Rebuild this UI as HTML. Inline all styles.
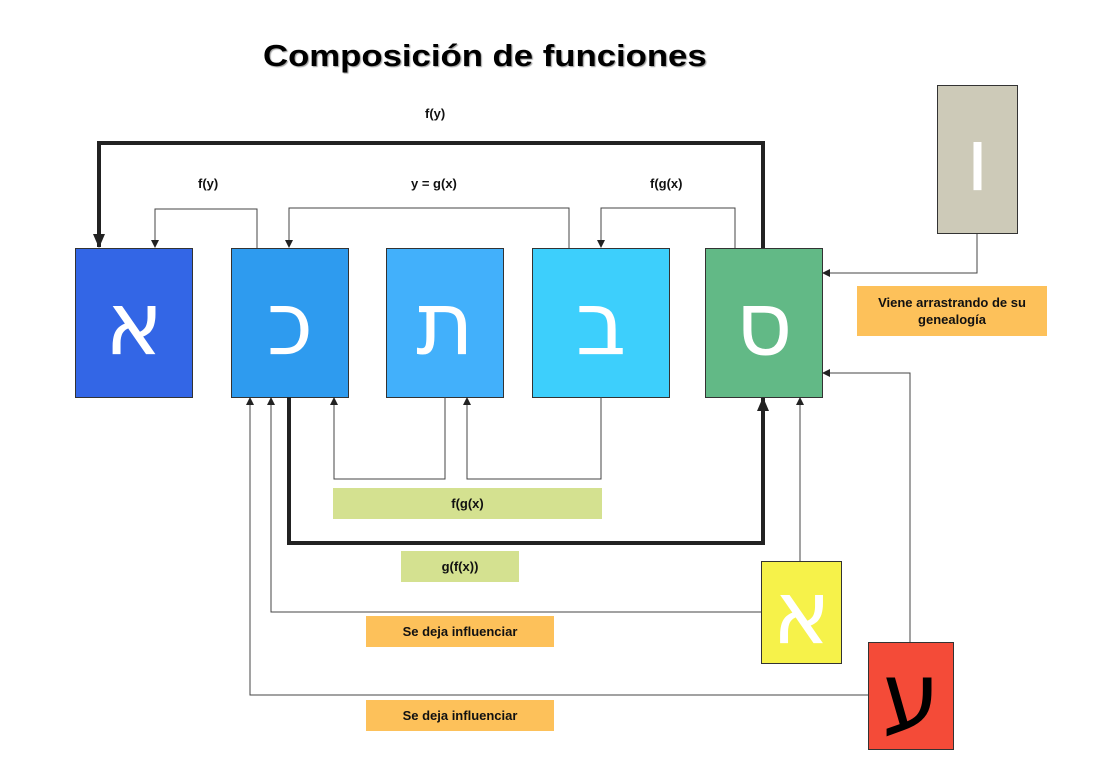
<!DOCTYPE html>
<html><head><meta charset="utf-8"><style>
body{margin:0;background:#fff;width:1100px;height:778px;overflow:hidden;position:relative;font-family:"Liberation Sans",sans-serif}
.b{position:absolute;box-sizing:border-box;border:1px solid #333;display:flex;align-items:center;justify-content:center;color:#fff;font-family:"DejaVu Sans",sans-serif}
.l{position:absolute;display:flex;align-items:center;justify-content:center;font-weight:bold;font-size:13px;color:#111;text-align:center}
.t{position:absolute;font-weight:bold;font-size:13px;color:#111}
</style></head><body>
<div style="position:absolute;left:263px;top:38px;font-size:31px;font-weight:bold;text-shadow:1px 1px 1px #999;transform:scaleX(1.12);transform-origin:0 0">Composición de funciones</div>
<div class="t" style="left:425px;top:106px">f(y)</div>
<div class="t" style="left:198px;top:176px">f(y)</div>
<div class="t" style="left:411px;top:176px">y = g(x)</div>
<div class="t" style="left:650px;top:176px">f(g(x)</div>
<div class="b" style="left:75px;top:248px;width:118px;height:150px;background:#3366e6;font-size:88px">א</div>
<div class="b" style="left:231px;top:248px;width:118px;height:150px;background:#2e9bef;font-size:88px">כ</div>
<div class="b" style="left:386px;top:248px;width:118px;height:150px;background:#42b0fb;font-size:88px">ת</div>
<div class="b" style="left:532px;top:248px;width:138px;height:150px;background:#3dcffc;font-size:88px">ב</div>
<div class="b" style="left:705px;top:248px;width:118px;height:150px;background:#62b986;font-size:88px">ס</div>
<div class="b" style="left:937px;top:85px;width:81px;height:149px;background:#cdcab8;font-size:88px">ו</div>
<div class="b" style="left:761px;top:561px;width:81px;height:103px;background:#f6f24a;font-size:88px">א</div>
<div class="b" style="left:868px;top:642px;width:86px;height:108px;background:#f44b38;color:#000;font-size:92px">ע</div>
<div class="l" style="left:857px;top:286px;width:190px;height:50px;background:#fdc15a;line-height:17px">Viene arrastrando de su<br>genealogía</div>
<div class="l" style="left:333px;top:488px;width:269px;height:31px;background:#d4e190">f(g(x)</div>
<div class="l" style="left:401px;top:551px;width:118px;height:31px;background:#d4e190">g(f(x))</div>
<div class="l" style="left:366px;top:616px;width:188px;height:31px;background:#fdc15a">Se deja influenciar</div>
<div class="l" style="left:366px;top:700px;width:188px;height:31px;background:#fdc15a">Se deja influenciar</div>
<svg width="1100" height="778" style="position:absolute;left:0;top:0">
<defs>
<marker id="a" markerWidth="8" markerHeight="8" refX="7" refY="4" orient="auto" markerUnits="userSpaceOnUse"><path d="M0,0L8,4L0,8z" fill="#222"/></marker>
<marker id="A" markerWidth="14" markerHeight="14" refX="13" refY="7" orient="auto" markerUnits="userSpaceOnUse"><path d="M0,1L14,7L0,13z" fill="#222"/></marker>
</defs>
<g fill="none" stroke="#222">
<path d="M763,248V143H99V247" stroke-width="4" marker-end="url(#A)"/>
<path d="M289,397V543H763V398" stroke-width="4" marker-end="url(#A)"/>
<g stroke-width="1" stroke="#444">
<path d="M257,248V209H155V247" marker-end="url(#a)"/>
<path d="M569,248V208H289V247" marker-end="url(#a)"/>
<path d="M735,248V208H601V247" marker-end="url(#a)"/>
<path d="M977,234V273H823" marker-end="url(#a)"/>
<path d="M910,642V373H823" marker-end="url(#a)"/>
<path d="M445,397V479H334V398" marker-end="url(#a)"/>
<path d="M601,397V479H467V398" marker-end="url(#a)"/>
<path d="M800,561V398" marker-end="url(#a)"/>
<path d="M761,612H271V398" marker-end="url(#a)"/>
<path d="M868,695H250V398" marker-end="url(#a)"/>
</g></g></svg>
</body></html>
